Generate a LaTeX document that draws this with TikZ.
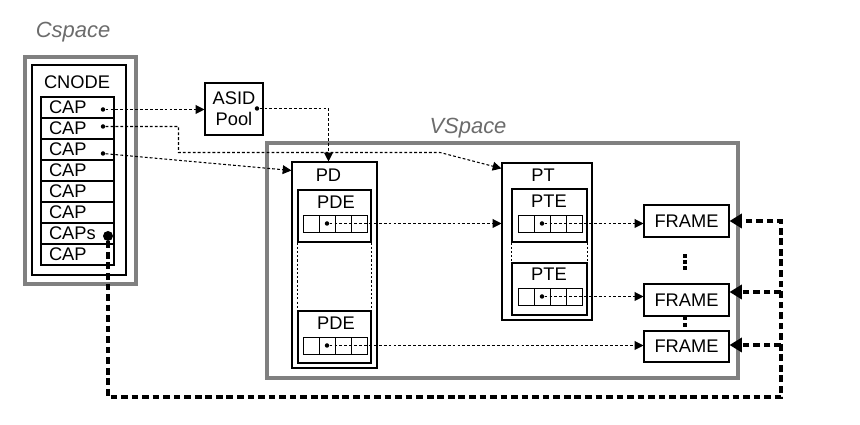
\documentclass[tikz,border=0pt]{standalone}
\usepackage{fontspec}
\setmainfont{Liberation Sans}
\usetikzlibrary{arrows.meta}

\begin{document}
\begin{tikzpicture}[
                x=1cm, y=-1cm,                % 自上而下
                every node/.style={
                    font=\fontsize{10.4}{12}\selectfont,
                    inner sep=0pt
                },
                >={Triangle[length=5pt,width=5pt]},
                outerbox/.style={draw=gray, line width=1.8pt},
                box/.style={draw, line width=0.6pt},
                capcell/.style={box, minimum height=0.42cm, text width=1.14cm,
                    inner xsep=0.16cm, align=left},
                cell/.style={draw, line width=0.5pt, minimum width=0.32cm, minimum height=0.34cm},
                title/.style={font=\fontsize{12.5}{14}\selectfont\itshape, text=gray!85!black},
                dot/.style={circle, fill, minimum size=0.09cm},
                bigdot/.style={circle, fill, minimum size=0.2cm},
                sqdot/.style={fill, minimum size=0.08cm},
                side/.style={line width=0.4pt, dash pattern=on 1.2pt off 1.2pt},
                link/.style={->, line width=0.6pt, dash pattern=on 1.6pt off 1.2pt},
                caplink/.style={->, line width=2pt, dash pattern=on 3.8pt off 2.2pt,
                    >={Triangle[length=7pt,width=8pt]}}
            ]
                \useasboundingbox (0,0) rectangle (17.2,8.5);

                % Cspace
                \node[title] (cslabel) at (1.46,0.64) {Cspace};
                \node[outerbox, minimum width=2.22cm, minimum height=4.54cm] (cspace) at (1.61,3.41) {};
                \node[box, minimum width=1.88cm, minimum height=4.20cm] (cnode) at (1.58,3.40) {};
                \node (cnodetxt) at (1.54,1.64) {CNODE};
                \foreach \t [count=\i] in {CAP,CAP,CAP,CAP,CAP,CAP,CAPs,CAP}
                    \node[capcell] (cap\i) at (1.55,{1.94+0.42*(\i-0.5)}) {\t};
                \node[dot] (c1dot) at (2.06,2.19) {};
                \node[dot] (c2dot) at (2.06,2.53) {};
                \node[dot] (c3dot) at (2.06,3.07) {};
                \node[bigdot] (capsdot) at (2.16,4.72) {};

                % ASID Pool
                \node[box, minimum width=1.16cm, minimum height=1.04cm, align=center] (asid) at (4.68,2.18) {ASID\\Pool};
                \node[dot] (asiddot) at (5.14,2.17) {};

                % VSpace
                \node[title] (vslabel) at (9.36,2.56) {VSpace};
                \node[outerbox, minimum width=9.42cm, minimum height=4.70cm] (vspace) at (10.05,5.21) {};

                % PD
                \node[box, minimum width=1.70cm, minimum height=4.12cm] (pd) at (6.69,5.30) {};
                \node (pdtxt) at (6.57,3.50) {PD};
                \node[box, minimum width=1.46cm, minimum height=1.04cm] (pdea) at (6.69,4.32) {};
                \node (pdeatxt) at (6.72,4.04) {PDE};
                \foreach \k in {1,...,4}
                    \node[cell] (pdea\k) at ({5.90+0.32*\k},4.47) {};
                \node[dot] (pdeadot) at (pdea2) {};
                \node[box, minimum width=1.46cm, minimum height=1.04cm] (pdeb) at (6.69,6.74) {};
                \node (pdebtxt) at (6.72,6.46) {PDE};
                \foreach \k in {1,...,4}
                    \node[cell] (pdeb\k) at ({5.90+0.32*\k},6.91) {};
                \node[dot] (pdebdot) at (pdeb2) {};
                \draw[side] (pdea.south west) -- (pdeb.north west);
                \draw[side] (pdea.south east) -- (pdeb.north east);

                % PT
                \node[box, minimum width=1.80cm, minimum height=3.14cm] (pt) at (10.94,4.83) {};
                \node (pttxt) at (10.86,3.50) {PT};
                \node[box, minimum width=1.50cm, minimum height=1.06cm] (ptea) at (10.99,4.31) {};
                \node (pteatxt) at (10.98,4.02) {PTE};
                \foreach \k in {1,...,4}
                    \node[cell] (ptea\k) at ({10.20+0.32*\k},4.47) {};
                \node[dot] (pteadot) at (ptea2) {};
                \node[box, minimum width=1.50cm, minimum height=1.04cm] (pteb) at (10.99,5.78) {};
                \node (ptebtxt) at (10.98,5.48) {PTE};
                \foreach \k in {1,...,4}
                    \node[cell] (pteb\k) at ({10.20+0.32*\k},5.93) {};
                \node[dot] (ptebdot) at (pteb2) {};
                \draw[side] (ptea.south west) -- (pteb.north west);
                \draw[side] (ptea.south east) -- (pteb.north east);

                % FRAME
                \node[box, minimum width=1.70cm, minimum height=0.64cm] (frame1) at (13.73,4.42) {FRAME};
                \node[box, minimum width=1.70cm, minimum height=0.64cm] (frame2) at (13.73,6.00) {FRAME};
                \node[box, minimum width=1.70cm, minimum height=0.62cm] (frame3) at (13.73,6.93) {FRAME};
                \foreach \y [count=\i] in {5.12,5.24,5.36}
                    \node[sqdot] (vd\i) at (13.70,\y) {};
                \node[sqdot] (vd4) at (13.70,6.37) {};
                \node[sqdot] (vd5) at (13.70,6.50) {};

                % 边
                \draw[link] (c1dot) -- (asid.west |- c1dot);
                \draw[link] (asiddot) -| (pd.north -| pdtxt);
                \draw[link] (c2dot) -- ++(1.51,0) |- (8.80,3.05) -- ([yshift=-0.12cm]pt.north west);
                \draw[link] (c3dot) -- ([yshift=-0.18cm]pd.north west);
                \draw[link] (pdeadot) -- (pdeadot -| pt.west);
                \draw[link] (pdebdot) -- (pdebdot -| frame3.west);
                \draw[link] (pteadot) -- (pteadot -| frame1.west);
                \draw[link] (ptebdot) -- (ptebdot -| frame2.west);

                % CAPs
                \coordinate (lc) at (15.62,7.94);
                \coordinate (b2) at (15.62,5.84);
                \coordinate (b3) at (15.62,6.90);
                \draw[caplink] (capsdot) |- (lc) |- (frame1.east);
                \draw[caplink] (b2) -- (b2 -| frame2.east);
                \draw[caplink] (b3) -- (b3 -| frame3.east);
            \end{tikzpicture}
\end{document}
